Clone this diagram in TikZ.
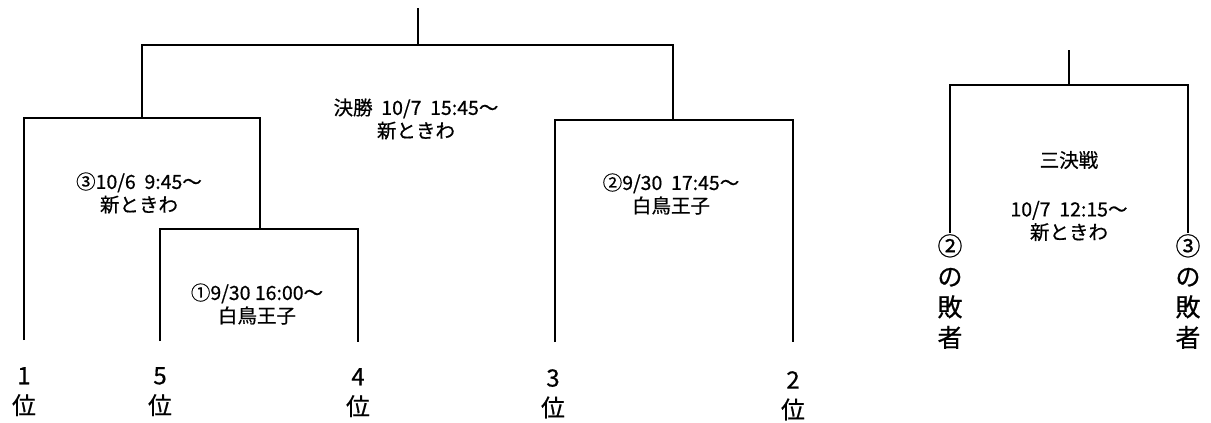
\documentclass[tikz,border=0pt]{standalone}
\usepackage{fontspec}
\setmainfont{Noto Sans CJK JP}[FakeBold=0.6]
\begin{document}
\begin{tikzpicture}[x=1pt,y=-1pt,
  br/.style={line width=1.6pt, line join=miter},
  info/.style={font=\fontsize{19.5}{23}\selectfont, align=center, inner sep=0pt},
  rank/.style={font=\fontsize{24}{30}\selectfont, align=center, inner sep=0pt, anchor=north},
  loser/.style={font=\fontsize{25}{30.5}\selectfont, align=center, inner sep=0pt, anchor=north}]
\useasboundingbox (0,0) rectangle (1211,423);
% main bracket coordinates
\coordinate (root) at (418,8);
\coordinate (fin) at (418,45);
\coordinate (m3) at (142,118);
\coordinate (m2) at (673,120);
\coordinate (m1) at (260,229);
\coordinate (leaf1) at (24,340);
\coordinate (leaf5) at (160,341);
\coordinate (leaf4) at (358,342);
\coordinate (leaf3) at (555,342);
\coordinate (leaf2) at (793,342);
\draw[br] (root) -- (fin);
\draw[br] (m3) |- (fin) -| (m2);
\draw[br] (leaf1) |- (m3) -| (m1);
\draw[br] (leaf5) |- (m1) -| (leaf4);
\draw[br] (leaf3) |- (m2) -| (leaf2);
% third place bracket
\coordinate (troot) at (1069,50);
\coordinate (tfin) at (1069,85);
\coordinate (tl) at (950,233);
\coordinate (tr) at (1188,233);
\draw[br] (troot) -- (tfin);
\draw[br] (tl) |- (tfin) -| (tr);
% match info
\node[info] (tfinal) at (416,119) {決勝\ \ 10/7\ \ 15:45～\\新ときわ};
\node[info] (t3) at (139,193) {③10/6\ \ 9:45～\\新ときわ};
\node[info] (t1) at (257,304) {①9/30 16:00～\\白鳥王子};
\node[info] (t2) at (671,194) {②9/30\ \ 17:45～\\白鳥王子};
\node[info] (tthird) at (1069,160) {三決戦};
\node[info] (tthirdd) at (1069,221) {10/7\ \ 12:15～\\新ときわ};
% rank labels
\node[rank] (r1) at (24,367) {1\\位};
\node[rank] (r5) at (160,367) {5\\位};
\node[rank] (r4) at (358,368) {4\\位};
\node[rank] (r3) at (553,369) {3\\位};
\node[rank] (r2) at (793,371) {2\\位};
% losers
\node[loser] (lz2) at (950,234) {②\\の\\敗\\者};
\node[loser] (lz3) at (1188,234) {③\\の\\敗\\者};
\end{tikzpicture}
\end{document}
